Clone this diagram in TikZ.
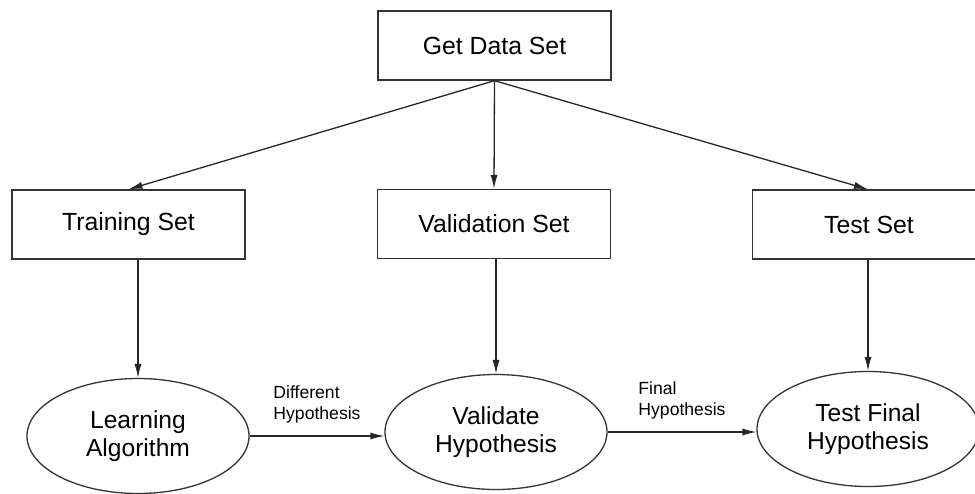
\documentclass[tikz,border=0pt]{standalone}
\usepackage{fontspec}
\setmainfont{Liberation Sans}
\usetikzlibrary{arrows.meta,shapes.geometric}
\tikzset{
  setbox/.style={draw=black!80, line width=0.65pt, minimum width=116.5pt, minimum height=34.5pt,
    inner sep=0pt, font=\fontsize{12.4}{14.5}\selectfont},
  stagebox/.style={ellipse, draw=black!80, line width=0.65pt, minimum width=111pt, minimum height=57.5pt,
    inner sep=0pt, align=center, font=\fontsize{12.3}{14.2}\selectfont},
  flow/.style={draw=black!85, line width=0.65pt, -{Latex[length=7pt,width=3.6pt]}},
  flowlabel/.style={align=left, inner sep=0pt, above=6pt, font=\fontsize{8.8}{10.5}\selectfont}
}
\begin{document}
\begin{tikzpicture}[x=0.5pt, y=-0.5pt]
		\useasboundingbox (0,0) rectangle (975,493);
		
		% data sets
		\node[setbox] (getdata) at (494.5, 45.5) {Get Data Set};
		\node[setbox] (train) at (128.5, 224.5) {Training Set};
		\node[setbox] (valid) at (494, 224) {Validation Set};
		\node[setbox] (test) at (869, 224.5) {Test Set};
		
		% stages
		\node[stagebox] (learn) at (138, 436) {Learning\\Algorithm};
		\node[stagebox] (validate) at (496, 432) {Validate\\Hypothesis};
		\node[stagebox] (testfinal) at (868, 429) {Test Final\\Hypothesis};
		
		% splitting
		\draw[flow] (getdata.south) -- (train.north);
		\draw[flow] (getdata.south) -- (valid.north);
		\draw[flow] (getdata.south) -- (test.north -| testfinal.north);
		
		\draw[flow] (train.south -| learn.north) -- (learn.north);
		\draw[flow] (valid.south -| validate.north) -- (validate.north);
		\draw[flow] (test.south -| testfinal.north) -- (testfinal.north);
		
		% hypotheses
		\draw[flow] (learn.east) -- node[flowlabel] {Different\\Hypothesis} (learn.east -| validate.west);
		\draw[flow] (validate.east) -- node[flowlabel] {Final\\Hypothesis} (validate.east -| testfinal.west);
	\end{tikzpicture}
\end{document}
